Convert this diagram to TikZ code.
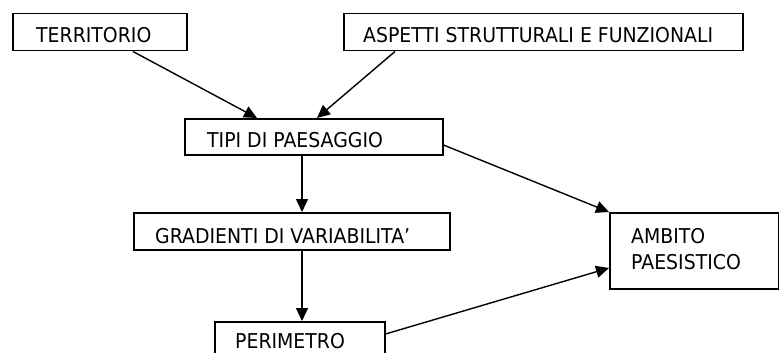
\documentclass[tikz,border=0pt]{standalone}
\usepackage{fontspec}
\setmainfont{DejaVu Sans}[FakeStretch=0.925]
\usetikzlibrary{arrows.meta,calc}
\begin{document}
\begin{tikzpicture}[x=1pt,y=-1pt,
 box/.style={draw,line width=1.5pt,inner sep=0pt,anchor=north west},
 lbl/.style={anchor=base west,inner sep=0pt,font=\fontsize{20.4}{25}\selectfont},
 arr/.style={line width=1.4pt,-{Triangle[length=13pt,width=12pt]}}]
\useasboundingbox (0,0) rectangle (779,353);
\clip (0,0) rectangle (779,353);
\node[box,minimum width=174pt,minimum height=37pt] (terr) at (12,13) {};
\node[box,minimum width=399pt,minimum height=37pt] (asp) at (343,13) {};
\node[box,minimum width=258pt,minimum height=36pt] (tipi) at (184,118) {};
\node[box,minimum width=316pt,minimum height=37pt] (grad) at (133,212) {};
\node[box,minimum width=170pt,minimum height=40pt] (perim) at (214,321) {};
\node[box,minimum width=169pt,minimum height=76pt] (amb) at (609,212) {};
\node[lbl] (tterr) at ($(terr.north west)+(24,30)$) {TERRITORIO};
\node[lbl] (tasp) at ($(asp.north west)+(20,30)$) {ASPETTI STRUTTURALI E FUNZIONALI};
\node[lbl] (ttipi) at ($(tipi.north west)+(23,29)$) {TIPI DI PAESAGGIO};
\node[lbl] (tgrad) at ($(grad.north west)+(22,31)$) {GRADIENTI DI VARIABILITA’};
\node[lbl] (tperim) at ($(perim.north west)+(21,27.5)$) {PERIMETRO};
\node[lbl] (tamb1) at ($(amb.north west)+(22,31)$) {AMBITO};
\node[lbl] (tamb2) at ($(amb.north west)+(22,57)$) {PAESISTICO};
\draw[arr] ($(terr.south west)+(121,0)$) -- ($(tipi.north west)+(73,0)$);
\draw[arr] ($(asp.south west)+(52,0)$) -- ($(tipi.north west)+(133,0)$);
\draw[arr] ($(tipi.south west)+(118,0)$) -- ($(grad.north west)+(169,0)$);
\draw[arr] ($(grad.south west)+(169,0)$) -- ($(perim.north west)+(88,0)$);
\draw[arr] ($(tipi.north east)+(0,27)$) -- (amb.north west);
\draw[arr] ($(perim.north east)+(0,13)$) -- ($(amb.north west)+(0,56)$);
\end{tikzpicture}
\end{document}
